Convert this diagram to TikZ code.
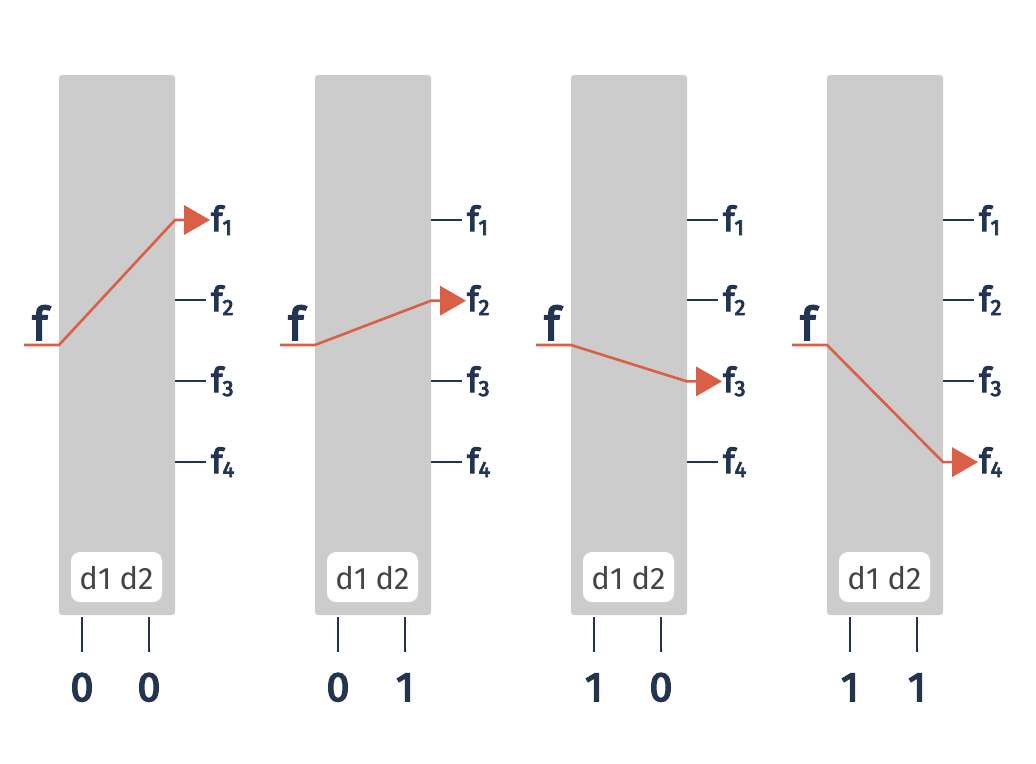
\documentclass[tikz,border=0pt]{standalone}
\usepackage{fontspec}
\setmainfont{Fira Sans}
\newfontfamily\semib[FakeBold=4]{Fira Sans}
\definecolor{panelgray}{HTML}{CCCCCC}
\definecolor{navy}{HTML}{22344F}
\definecolor{redline}{HTML}{D95F47}
\definecolor{labgray}{HTML}{444444}
\tikzset{
  panel/.style={fill=panelgray, draw=none, rounded corners=3pt},
  tickline/.style={draw=navy, line width=2.6pt},
  redpath/.style={draw=redline, line width=2.6pt},
  redtip/.style={fill=redline, draw=none},
  dbox/.style={fill=white, draw=none, rounded corners=9pt},
  dlabel/.style={text=labgray, font=\fontsize{31}{31}\selectfont, inner sep=0pt},
  flabel/.style={text=navy, font=\fontsize{34}{34}\selectfont\semib, inner sep=0pt, anchor=base west},
  biglabel/.style={text=navy, font=\fontsize{46}{46}\selectfont\semib, inner sep=0pt, anchor=base},
  digit/.style={text=navy, font=\fontsize{41}{41}\selectfont\semib, inner sep=0pt, anchor=base}
}
\newcommand{\subn}[1]{\raisebox{-4pt}{\fontsize{22}{22}\selectfont #1}}
\begin{document}
\begin{tikzpicture}[x=1pt,y=-1pt]
\useasboundingbox (0,0) rectangle (1036,763);
\foreach \i/\sel/\da/\db in {0/1/0/0, 1/2/0/1, 2/3/1/0, 3/4/1/1} {
  \begin{scope}[xshift=\i*256pt]
    \fill[panel] (59,75) rectangle (175,615);
    % outputs
    \foreach \k/\yy in {1/220, 2/300, 3/381, 4/462} {
      \coordinate (out\k) at (175,\yy);
      \coordinate (tick\k) at (206,\yy);
      \node[flabel] (lab\k) at (211,\yy+11) {f\subn{\k}};
      \ifnum\k=\sel\relax
      \else
        \draw[tickline] (out\k) -- (tick\k);
      \fi
    }
    % input
    \coordinate (inL) at (24,345);
    \coordinate (inR) at (59,345);
    \node[biglabel] (fin) at (40,340) {f};
    \coordinate (sel) at (175,{220+(\sel-1)*80.7});
    \coordinate (selb) at (184,{220+(\sel-1)*80.7});
    \draw[redpath] (inL) -- (inR) -- (sel) -- (selb);
    \fill[redtip] ([yshift=-15pt]selb) -- ([xshift=26pt]selb) -- ([yshift=15pt]selb) -- cycle;
    % d box
    \fill[dbox] (71,552) rectangle (162,602);
    \node[dlabel] (dl) at (116.5,578) {d1 d2};
    % bottom ticks
    \coordinate (b1t) at (82,617);
    \coordinate (b1b) at (82,652);
    \coordinate (b2t) at (149,617);
    \coordinate (b2b) at (149,652);
    \draw[tickline] (b1t) -- (b1b);
    \draw[tickline] (b2t) -- (b2b);
    \node[digit] (v1) at (82,701) {\da};
    \node[digit] (v2) at (149,701) {\db};
  \end{scope}
}
\end{tikzpicture}
\end{document}
